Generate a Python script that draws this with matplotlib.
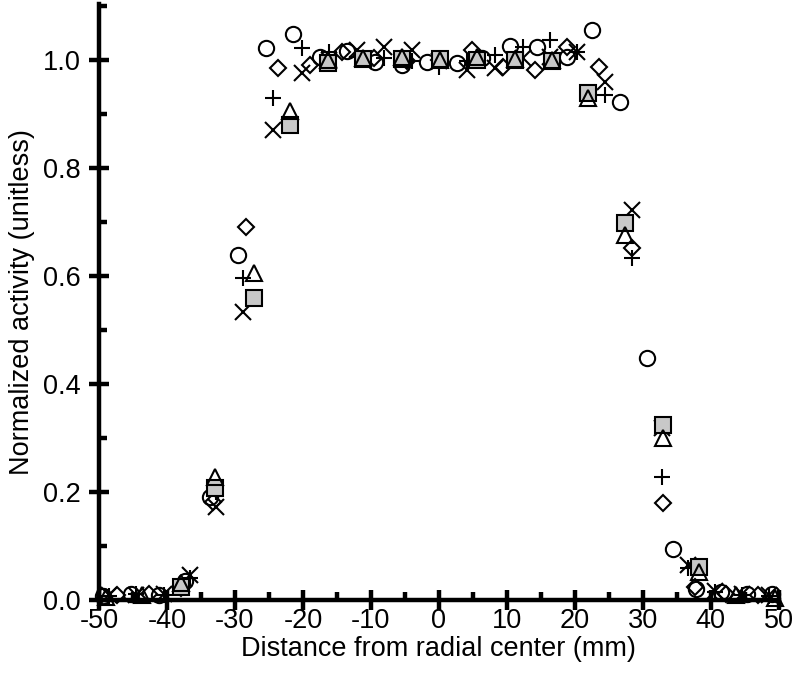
import numpy as np
import matplotlib
matplotlib.use("Agg")
from matplotlib import pyplot as plt
from matplotlib.ticker import MultipleLocator, FormatStrFormatter

sq_x = [-37.9, -32.9, -27.2, -21.9, -16.3, -11.2, -5.4, 0.1, 5.6, 11.2, 16.6, 21.9, 27.4, 32.9, 38.2]
sq_y = [0.024, 0.207, 0.559, 0.880, 0.994, 1.002, 1.002, 1.002, 1.0, 1.0, 0.998, 0.939, 0.698, 0.325, 0.061]

tri_x = [-49.0, -43.7, -37.9, -32.9, -27.2, -21.9, -16.3, -11.2, -5.4, 0.1, 5.6, 11.2, 16.6, 21.9, 27.4, 32.9, 38.2, 43.7, 49.5]
tri_y = [0.006, 0.01, 0.032, 0.228, 0.605, 0.905, 1.0, 1.004, 1.006, 1.0, 1.006, 1.002, 1.0, 0.93, 0.676, 0.300, 0.052, 0.01, 0.004]

circ_x = [-49.4, -45.3, -41.2, -37.3, -33.6, -29.6, -25.4, -21.5, -17.5, -13.5, -9.4, -5.4, -1.8, 2.6, 6.3, 10.4, 14.4, 18.8, 22.5, 26.6, 30.6, 34.4, 37.8, 41.5, 45.3, 49.0]
circ_y = [0.008, 0.012, 0.01, 0.035, 0.19, 0.639, 1.022, 1.048, 1.006, 1.016, 0.996, 0.99, 0.996, 0.994, 1.004, 1.026, 1.024, 1.006, 1.056, 0.922, 0.448, 0.094, 0.02, 0.014, 0.012, 0.012]

cross_x = [-48.5, -44.5, -40.5, -36.6, -32.8, -28.8, -24.4, -20.1, -16.1, -12.0, -8.1, -4.0, 0.0, 4.1, 8.2, 12.4, 16.3, 20.3, 24.4, 28.4, 32.8, 36.6, 40.6, 44.6, 48.6]
plus_y = [0.008, 0.012, 0.01, 0.04, 0.2, 0.596, 0.93, 1.022, 1.015, 1.006, 1.004, 0.998, 0.987, 0.998, 1.01, 1.024, 1.037, 1.015, 0.935, 0.633, 0.228, 0.06, 0.014, 0.01, 0.008]
x_y = [0.01, 0.01, 0.012, 0.046, 0.172, 0.533, 0.87, 0.976, 1.0, 1.018, 1.024, 1.018, 0.998, 0.982, 0.985, 1.004, 1.006, 1.015, 0.96, 0.722, 0.318, 0.065, 0.016, 0.012, 0.01]

dia_x = [-47.3, -42.6, -37.9, -33.2, -28.4, -23.6, -18.9, -14.2, -9.5, -4.7, 0.0, 4.8, 9.4, 14.1, 18.8, 23.5, 28.4, 32.9, 37.6, 42.3, 47.0]
dia_y = [0.01, 0.012, 0.022, 0.182, 0.69, 0.985, 0.99, 1.015, 1.004, 0.998, 1.0, 1.018, 0.987, 0.981, 1.024, 0.987, 0.652, 0.18, 0.025, 0.012, 0.01]

plt.rcParams['font.family'] = ['Liberation Sans', 'DejaVu Sans']
plt.rcParams['axes.unicode_minus'] = False

fig = plt.figure(figsize=(7.98, 6.79), dpi=100)
ax = fig.add_axes([0.124, 0.1163, 0.852, 0.878])

mk = dict(linestyle='none', markeredgecolor='black', markeredgewidth=1.5, clip_on=False)
ax.plot(circ_x, circ_y, marker='o', markersize=11, markerfacecolor='none', **mk)
ax.plot(dia_x, dia_y, marker='D', markersize=8, markerfacecolor='none', **mk)
ax.plot(cross_x, plus_y, marker='+', markersize=12, **mk)
ax.plot(cross_x, x_y, marker='x', markersize=11, **mk)
ax.plot(sq_x, sq_y, marker='s', markersize=11, markerfacecolor='#c8c8c8', **mk)
ax.plot(tri_x, tri_y, marker='^', markersize=11, markerfacecolor='none', **mk)

ax.set_xlim(-50, 50)
ax.set_ylim(0, 1.104)
ax.spines['top'].set_visible(False)
ax.spines['right'].set_visible(False)
ax.spines['left'].set_linewidth(3.2)
ax.spines['bottom'].set_linewidth(3.2)

ax.xaxis.set_major_locator(MultipleLocator(10))
ax.xaxis.set_minor_locator(MultipleLocator(5))
ax.yaxis.set_major_locator(MultipleLocator(0.2))
ax.yaxis.set_minor_locator(MultipleLocator(0.1))
ax.yaxis.set_major_formatter(FormatStrFormatter('%.1f'))
ax.tick_params(which='major', direction='inout', length=14, width=3.2, labelsize=19.5)
ax.tick_params(which='minor', direction='in', length=6, width=3.2)
ax.tick_params(axis='x', which='major', pad=-1)
ax.tick_params(axis='y', which='major', pad=6)

ax.set_xlabel('Distance from radial center (mm)', fontsize=19.5, labelpad=1)
ax.set_ylabel('Normalized activity (unitless)', fontsize=19.5, labelpad=6)

fig.savefig('out.png', dpi=100)
